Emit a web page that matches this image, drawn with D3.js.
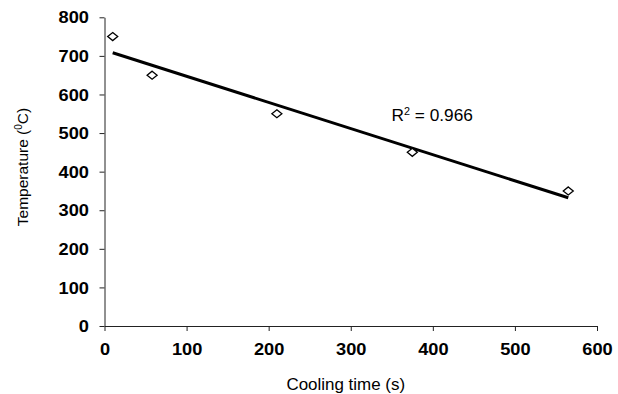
<!DOCTYPE html>
<html>
<head>
<meta charset="utf-8">
<script src="https://cdn.jsdelivr.net/npm/d3@7"></script>
<style>
  body { margin: 0; background: #fff; }
  text { font-family: "Liberation Sans", Arial, sans-serif; fill: #000; }
</style>
</head>
<body>
<svg id="chart" width="618" height="394"></svg>
<script>
const coolingTime = [10, 58, 210, 375, 565];
const temperature = [750, 650, 550, 450, 350];
const xTicks = [0, 100, 200, 300, 400, 500, 600];
const yTicks = [0, 100, 200, 300, 400, 500, 600, 700, 800];

const data = coolingTime.map((t, i) => ({x: t, y: temperature[i]}));

const svg = d3.select('#chart');
const margin = {left: 104.5, top: 17.3, right: 21, bottom: 68};
const w = 618 - margin.left - margin.right;
const h = 394 - margin.top - margin.bottom;

const xScale = d3.scaleLinear().domain([0, 600]).range([0, w]);
const yScale = d3.scaleLinear().domain([0, 800]).range([h, 0]);

const g = svg.append('g').attr('transform', `translate(${margin.left},${margin.top})`);

// axes
const xAxis = g.append('g')
    .attr('transform', `translate(0,${h})`)
    .call(d3.axisBottom(xScale).tickValues(xTicks).tickSize(5).tickPadding(0).tickSizeOuter(0));
const yAxis = g.append('g')
    .call(d3.axisLeft(yScale).tickValues(yTicks).tickSize(5).tickPadding(0).tickSizeOuter(0));

[xAxis, yAxis].forEach(a => {
    a.select('.domain').attr('stroke', '#222').attr('stroke-width', 1);
    a.selectAll('.tick line').attr('stroke', '#222');
    a.selectAll('text')
        .style('font-size', '16px')
        .style('font-weight', 'bold')
        .attr('fill', '#000');
});
xAxis.selectAll('text')
    .attr('y', 0).attr('dy', null)
    .attr('transform', 'translate(0,29) scale(1.14,1)');
yAxis.selectAll('text')
    .attr('x', 0).attr('dy', '0.35em')
    .attr('transform', 'translate(-15.5,0) scale(1.14,1)');

// regression trendline
const mx = d3.mean(data, d => d.x), my = d3.mean(data, d => d.y);
const sxy = d3.sum(data, d => (d.x - mx) * (d.y - my));
const sxx = d3.sum(data, d => (d.x - mx) ** 2);
const syy = d3.sum(data, d => (d.y - my) ** 2);
const slope = sxy / sxx, intercept = my - slope * mx;
const r2 = sxy * sxy / (sxx * syy);
const ext = d3.extent(coolingTime);

g.append('line')
    .attr('x1', xScale(ext[0])).attr('y1', yScale(intercept + slope * ext[0]))
    .attr('x2', xScale(ext[1])).attr('y2', yScale(intercept + slope * ext[1]))
    .attr('stroke', '#000').attr('stroke-width', 3);

// diamond markers
const diamond = {
    draw(ctx) {
        ctx.moveTo(0, -4); ctx.lineTo(5, 0); ctx.lineTo(0, 4); ctx.lineTo(-5, 0); ctx.closePath();
    }
};
g.selectAll('path.pt')
    .data(data)
    .enter().append('path')
    .attr('class', 'pt')
    .attr('d', d3.symbol().type(diamond))
    .attr('transform', d => `translate(${xScale(d.x)},${yScale(d.y)})`)
    .attr('fill', '#fff').attr('stroke', '#000').attr('stroke-width', 1.3);

// R² label
const rt = svg.append('text')
    .attr('transform', 'translate(391.5,120.5) scale(1.08,1)')
    .style('font-size', '16px');
rt.append('tspan').text('R');
rt.append('tspan').text('2').style('font-size', '10px').attr('dy', '-6');
rt.append('tspan').text(' = ' + r2.toFixed(3)).attr('dy', '6');

// axis titles
svg.append('text')
    .attr('transform', `translate(${margin.left + xScale(300) - 5},390) scale(1.06,1)`)
    .attr('text-anchor', 'middle')
    .style('font-size', '16px')
    .text('Cooling time (s)');

const yt = svg.append('text')
    .attr('transform', 'translate(28,167) rotate(-90)')
    .attr('text-anchor', 'middle')
    .style('font-size', '15.5px');
yt.append('tspan').text('Temperature (');
yt.append('tspan').text('0').style('font-size', '10px').attr('dy', '-6');
yt.append('tspan').text('C)').attr('dy', '6');
</script>
</body>
</html>
